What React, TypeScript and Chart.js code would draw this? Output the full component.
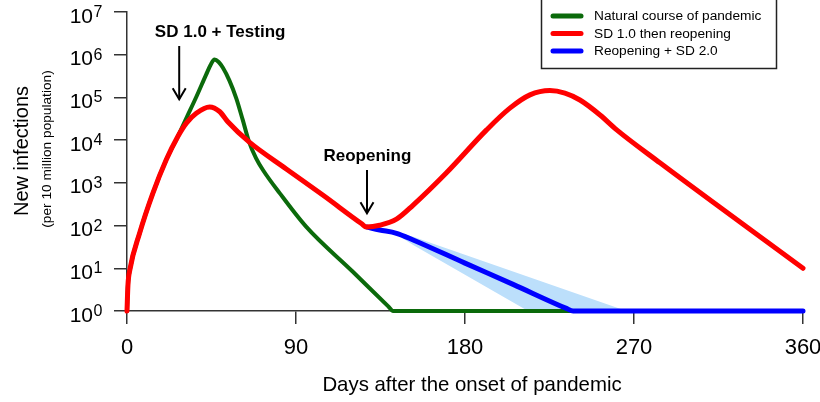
import { useEffect, useRef } from 'react';
import { Chart, registerables } from 'chart.js';

Chart.register(...registerables);

const FONT = '"Liberation Sans", Arial, Helvetica, sans-serif';

// Axis ticks
const xTickValues = [0, 90, 180, 270, 360];
const yTickExponents = [0, 1, 2, 3, 4, 5, 6, 7];

// Natural course of pandemic
const naturalDays = [0, 0.5, 1.5, 6.7, 13.8, 20.9, 27, 32, 37, 42.2, 44.5, 46.6, 48.8, 51, 54.5, 58.2, 61.6, 65, 68.7, 72.4, 81.3, 95.5, 120, 139, 141.7, 360];
const naturalInfections = [1, 4, 9.1, 66, 575, 3470, 12000, 35500, 105000, 347000, 575000, 776000, 676000, 500000, 251000, 95500, 30200, 9100, 3800, 2000, 575, 93, 8.5, 1.3, 1, 1];

// SD 1.0 then reopening
const reopenDays = [0, 0.5, 1.5, 6.7, 13.8, 20.9, 27, 31.6, 36.9, 44, 49.3, 53.7, 65, 85, 105, 125, 127.5, 134.6, 143.5, 152.4, 170, 191.5, 203.9, 214.6, 225.2, 233.2, 241.2, 251.9, 260.8, 283.8, 360];
const reopenInfections = [1, 4, 9.1, 66, 575, 3470, 12000, 25000, 42700, 60000, 46800, 26900, 9100, 2090, 490, 110, 93, 102, 141, 302, 1700, 17400, 56200, 115000, 145000, 126000, 87000, 38900, 17400, 2950, 10];

// Reopening + SD 2.0
const sd2Days = [127.5, 134.6, 143.5, 152.4, 180, 205.6, 234, 237.6, 360];
const sd2Infections = [93, 79, 66, 46, 13.2, 4.2, 1.15, 1, 1];

// Uncertainty band of Reopening + SD 2.0
const bandUpperDays = [127.5, 143.5, 152.4, 266, 360];
const bandUpperInfections = [93, 69, 55, 1, 1];
const bandLowerDays = [127.5, 143.5, 152.4, 213.6, 360];
const bandLowerInfections = [93, 63, 35, 1, 1];

const seriesLabels = ['Natural course of pandemic', 'SD 1.0 then reopening', 'Reopening + SD 2.0'];
const seriesColors = ['#0b6a0b', '#ff0000', '#0000ff'];
const bandColor = '#bcdffb';

// Annotations (data coordinates)
const annotationTexts = ['SD 1.0 + Testing', 'Reopening'];
const annotationTextDays = [49.6, 128];
const annotationTextValues = [2.6e6, 3.3e3];
const arrowDays = [27.8, 127.8];
const arrowTopValues = [1.6e6, 2.0e3];
const arrowTipValues = [9.1e4, 195];

const xTitle = 'Days after the onset of pandemic';
const yTitle = 'New infections';
const ySubTitle = '(per 10 million population)';

function pts(days: number[], vals: number[]) {
  return days.map((d, i) => ({ x: d, y: vals[i] }));
}

export default function App() {
  const ref = useRef<HTMLCanvasElement>(null);

  useEffect(() => {
    document.body.style.margin = '0';
    const canvas = ref.current!;

    const overlay = {
      id: 'overlay',
      afterDraw(chart: any) {
        const { ctx, chartArea, scales } = chart;
        const xs = scales.x;
        const ys = scales.y;
        ctx.save();
        ctx.fillStyle = '#000';

        // y tick labels 10^n
        const lx = chartArea.left - 34;
        yTickExponents.forEach((e) => {
          const py = ys.getPixelForValue(Math.pow(10, e));
          ctx.font = `21px ${FONT}`;
          ctx.textAlign = 'right';
          ctx.textBaseline = 'alphabetic';
          ctx.fillText('10', lx, py + 10.5);
          ctx.font = `16px ${FONT}`;
          ctx.textAlign = 'left';
          ctx.fillText(String(e), lx + 0.5, py + 5);
        });

        // axis titles
        ctx.font = `20.4px ${FONT}`;
        ctx.textAlign = 'center';
        ctx.textBaseline = 'alphabetic';
        ctx.fillText(xTitle, 472, 391);

        ctx.save();
        ctx.translate(28, 151);
        ctx.rotate(-Math.PI / 2);
        ctx.font = `20px ${FONT}`;
        ctx.fillText(yTitle, 0, 0);
        ctx.restore();
        ctx.save();
        ctx.translate(50.5, 149);
        ctx.rotate(-Math.PI / 2);
        ctx.font = `13.7px ${FONT}`;
        ctx.fillText(ySubTitle, 0, 0);
        ctx.restore();

        // annotations with arrows
        annotationTexts.forEach((t, i) => {
          ctx.font = `bold 17px ${FONT}`;
          ctx.textAlign = 'center';
          ctx.textBaseline = 'alphabetic';
          ctx.fillStyle = '#000';
          ctx.fillText(t, xs.getPixelForValue(annotationTextDays[i]), ys.getPixelForValue(annotationTextValues[i]));
          const ax = xs.getPixelForValue(arrowDays[i]);
          const ay0 = ys.getPixelForValue(arrowTopValues[i]);
          const ay1 = ys.getPixelForValue(arrowTipValues[i]);
          ctx.strokeStyle = '#000';
          ctx.lineWidth = 2;
          ctx.lineCap = 'butt';
          ctx.beginPath();
          ctx.moveTo(ax, ay0);
          ctx.lineTo(ax, ay1);
          ctx.stroke();
          ctx.beginPath();
          ctx.moveTo(ax - 6.5, ay1 - 11);
          ctx.lineTo(ax, ay1);
          ctx.lineTo(ax + 6.5, ay1 - 11);
          ctx.stroke();
        });

        // legend
        const bx = 541.5, by = -1, bw = 235, bh = 69.5;
        ctx.fillStyle = '#fff';
        ctx.fillRect(bx, by, bw, bh);
        ctx.strokeStyle = '#222';
        ctx.lineWidth = 1.5;
        ctx.strokeRect(bx, by, bw, bh);
        const rows = [16, 33.5, 51];
        seriesLabels.forEach((lab, i) => {
          ctx.strokeStyle = seriesColors[i];
          ctx.lineWidth = 5;
          ctx.lineCap = 'round';
          ctx.beginPath();
          ctx.moveTo(553, rows[i]);
          ctx.lineTo(581, rows[i]);
          ctx.stroke();
          ctx.fillStyle = '#000';
          ctx.font = `13.7px ${FONT}`;
          ctx.textAlign = 'left';
          ctx.textBaseline = 'middle';
          ctx.fillText(lab, 594, rows[i] + 0.5);
        });
        ctx.restore();
      },
    };

    const lineBase = {
      pointRadius: 0,
      fill: false,
      clip: false as any,
      cubicInterpolationMode: 'monotone' as const,
      borderCapStyle: 'round' as const,
      borderJoinStyle: 'round' as const,
    };

    const axisColor = '#333';

    const chart = new Chart(canvas, {
      type: 'line',
      data: {
        datasets: [
          { ...lineBase, label: seriesLabels[1], data: pts(reopenDays, reopenInfections), borderColor: seriesColors[1], borderWidth: 5 },
          { ...lineBase, label: seriesLabels[2], data: pts(sd2Days, sd2Infections), borderColor: seriesColors[2], borderWidth: 5 },
          { ...lineBase, label: seriesLabels[0], data: pts(naturalDays, naturalInfections), borderColor: seriesColors[0], borderWidth: 4 },
          {
            label: 'band upper',
            data: pts(bandUpperDays, bandUpperInfections),
            borderWidth: 0,
            borderColor: 'rgba(0,0,0,0)',
            backgroundColor: bandColor,
            pointRadius: 0,
            tension: 0,
            fill: '+1',
          },
          {
            label: 'band lower',
            data: pts(bandLowerDays, bandLowerInfections),
            borderWidth: 0,
            borderColor: 'rgba(0,0,0,0)',
            pointRadius: 0,
            tension: 0,
            fill: false,
          },
        ],
      },
      options: {
        responsive: false,
        animation: false,
        devicePixelRatio: 1,
        layout: { padding: { top: 12, right: 17, left: 0, bottom: 0 }, autoPadding: false } as any,
        plugins: { legend: { display: false }, tooltip: { enabled: false } },
        scales: {
          x: {
            type: 'linear',
            min: 0,
            max: 360,
            afterBuildTicks: (s: any) => {
              s.ticks = xTickValues.map((v) => ({ value: v }));
            },
            afterFit: (s: any) => {
              s.height = 91;
              s.paddingLeft = 0;
              s.paddingRight = 0;
            },
            ticks: { font: { family: FONT, size: 22 }, color: '#000', padding: 11, maxRotation: 0, autoSkip: false },
            grid: { drawOnChartArea: false, drawTicks: true, tickLength: 13, color: axisColor, lineWidth: 1.5 },
            border: { display: true, color: axisColor, width: 1.5 },
          },
          y: {
            type: 'logarithmic',
            min: 1,
            max: 1e7,
            afterBuildTicks: (s: any) => {
              s.ticks = yTickExponents.map((e) => ({ value: Math.pow(10, e) }));
            },
            afterFit: (s: any) => {
              s.width = 127;
              s.paddingTop = 0;
              s.paddingBottom = 0;
            },
            ticks: { display: false },
            grid: { drawOnChartArea: false, drawTicks: true, tickLength: 13, color: axisColor, lineWidth: 1.5 },
            border: { display: true, color: axisColor, width: 1.5 },
          },
        },
      },
      plugins: [overlay],
    });

    return () => chart.destroy();
  }, []);

  return (
    <div style={{ width: 820, height: 402 }}>
      <canvas ref={ref} width={820} height={402} style={{ display: 'block', width: 820, height: 402 }} />
    </div>
  );
}
